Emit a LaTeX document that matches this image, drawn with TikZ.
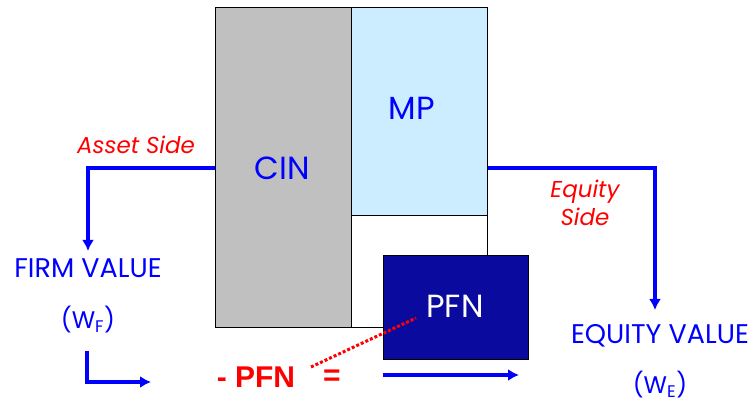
\documentclass[tikz,border=0pt]{standalone}
\usepackage{fontspec}
\setmainfont{Poppins}
\newfontfamily\boldsansfont{Liberation Sans}
\usetikzlibrary{arrows.meta}

\begin{document}
\begin{tikzpicture}[x=1pt, y=-1pt]
    \definecolor{cinGrey}{HTML}{C0C0C0}
    \definecolor{mpBlue}{HTML}{CCECFF}
    \definecolor{pfnNavy}{HTML}{0A0A9E}
    \definecolor{flowBlue}{HTML}{0000FF}
    \definecolor{sideRed}{HTML}{FF0000}

    \tikzset{
        block/.style={draw=black, line width=1.2pt, inner sep=0pt, anchor=north west},
        blocktext/.style={font=\fontsize{32}{36}\selectfont},
        flow/.style={draw=flowBlue, line width=4pt, -{Latex[length=11pt,width=12pt]}},
        valuetext/.style={text=flowBlue, font=\fontsize{27}{30}\selectfont},
        sidetext/.style={text=sideRed, font=\itshape\fontsize{23}{28}\selectfont, align=center},
        pfntext/.style={text=sideRed, font=\boldsansfont\bfseries\fontsize{30}{34}\selectfont},
    }

    \useasboundingbox (0,0) rectangle (753,403);

    % Draw balance sheet blocks
    \node[block, fill=cinGrey, minimum width=136, minimum height=320] (cin) at (215,7) {};
    \node[block, fill=mpBlue, minimum width=136, minimum height=208] (mp) at (351,7) {};
    \node[block, fill=white, minimum width=136, minimum height=112] (gap) at (351,215) {};
    \node[block, fill=pfnNavy, minimum width=145, minimum height=104] (pfn) at (383,255) {};

    \node[blocktext, text=flowBlue] (cinlabel) at (282,168) {CIN};
    \node[blocktext, text=flowBlue] (mplabel) at (412,108) {MP};
    \node[blocktext, text=white] (pfnlabel) at (455,306) {PFN};

    % Side labels
    \node[sidetext] (asset) at (136,145) {Asset Side};
    \node[sidetext] (equityside) at (585,203) {Equity\\Side};

    % Values
    \node[valuetext] (firm) at (88,268) {FIRM VALUE};
    \node[valuetext, font=\fontsize{24}{28}\selectfont] (wf) at (88,320) {(W\textsubscript{F})};
    \node[valuetext] (equity) at (660,336) {EQUITY VALUE};
    \node[valuetext, font=\fontsize{24}{28}\selectfont] (we) at (660,385) {(W\textsubscript{E})};

    % Bottom equation
    \node[pfntext] (minuspfn) at (256,377) {- PFN};
    \node[pfntext] (equals) at (332,378) {=};

    % Draw flows
    \draw[flow, shorten >=4pt] (cin.west) -| (firm.north);

    \coordinate (eqdrop) at (655,310);
    \draw[flow] (mp.east |- cin.west) -| (eqdrop);

    \coordinate (lstart) at (87,351);
    \coordinate (lend) at (151,382);
    \draw[flow] (lstart) |- (lend);

    \coordinate (pstart) at (383,375);
    \coordinate (pend) at (519,375);
    \draw[flow] (pstart) -- (pend);

    % Dotted link to PFN
    \coordinate (dotstart) at (311,367);
    \coordinate (dotend) at (416,318);
    \draw[sideRed, line width=3pt, dash pattern=on 3pt off 2pt] (dotstart) -- (dotend);

\end{tikzpicture}
\end{document}
